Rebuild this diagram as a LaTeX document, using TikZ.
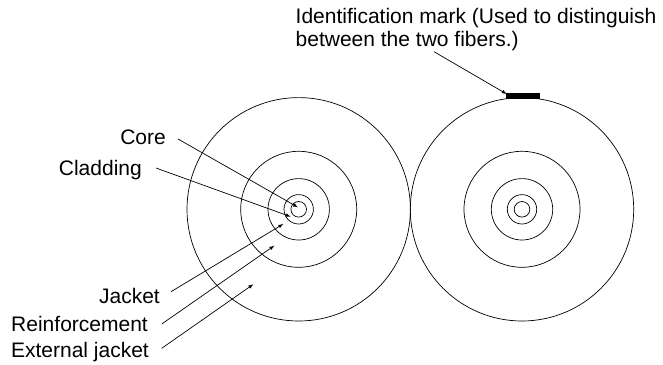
\documentclass[tikz,border=0pt]{standalone}
\usepackage{fontspec}
\setmainfont{Liberation Sans}
\usetikzlibrary{arrows, positioning}
\tikzset{
  ring/.style={draw, circle, line width=0.7pt, inner sep=0pt},
  callout/.style={->, >=latex, line width=0.7pt},
  lbl/.style={inner sep=0pt, font=\fontsize{21}{23}\selectfont, align=left}
}
\begin{document}
\begin{tikzpicture}[x=1pt,y=-1pt]
\useasboundingbox (0,0) rectangle (663,364);
% left fiber
\coordinate (cl) at (298.7,209.3);
\foreach \r in {111.7,58,30.7,14.7,7.8} {
  \node[ring, minimum size=2*\r pt] at (cl) {};
}
% right fiber
\coordinate (cr) at (522,209.3);
\foreach \r in {111.7,58,30.7,14.7,7.8} {
  \node[ring, minimum size=2*\r pt] at (cr) {};
}
\node[fill=black, minimum width=34pt, minimum height=5.7pt, inner sep=0pt] (mark) at (523.2,96.2) {};

\node[lbl, anchor=base west] (ident) at (295.5,46.2) {Identification mark (Used to distinguish\\between the two fibers.)};
\node[lbl, anchor=base east] (core) at (166,144.2) {Core};
\node[lbl, anchor=base east] (cladding) at (142,175.2) {Cladding};
\node[lbl, anchor=base east] (jacket) at (160,303) {Jacket};
\node[lbl, anchor=base east] (reinf) at (148,331) {Reinforcement};
\node[lbl, anchor=base east] (ext) at (149,357.5) {External jacket};

\coordinate (s1) at (178,139);
\coordinate (e1) at (298,207.3);
\coordinate (s2) at (156,168);
\coordinate (e2) at (290.7,216.7);
\coordinate (s3) at (171,291.7);
\coordinate (e3) at (283.3,224);
\coordinate (s4) at (161.7,324);
\coordinate (e4) at (274.3,245.7);
\coordinate (s5) at (161.7,348.3);
\coordinate (e5) at (253.3,284.3);
\coordinate (s6) at (434,51.7);
\coordinate (e6) at (506.7,94);

\draw[callout] (s1) -- (e1);
\draw[callout] (s2) -- (e2);
\draw[callout] (s3) -- (e3);
\draw[callout] (s4) -- (e4);
\draw[callout] (s5) -- (e5);
\draw[callout] (s6) -- (e6);
\end{tikzpicture}
\end{document}
